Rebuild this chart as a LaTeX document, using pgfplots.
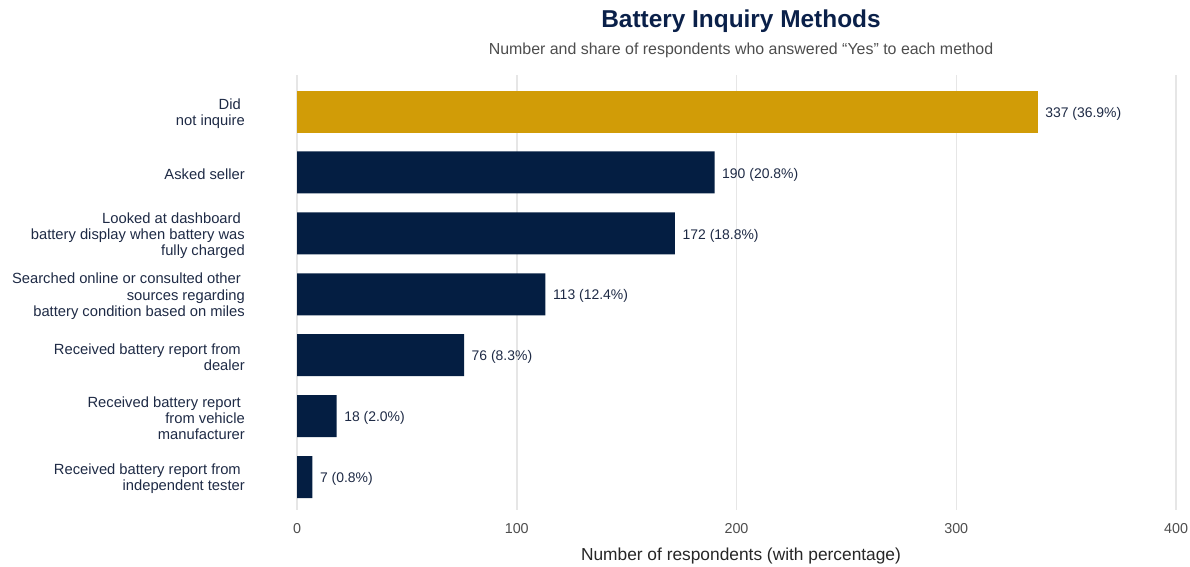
\documentclass[border=0pt]{standalone}
\usepackage{pgfplots}
\pgfplotsset{compat=1.18}
\usepackage{fontspec}
\setmainfont{Liberation Sans}
\definecolor{navy}{HTML}{041E42}
\definecolor{gold}{HTML}{D19C07}
\definecolor{lab}{HTML}{1E2A45}
\definecolor{gridc}{HTML}{E6E6E6}
\definecolor{titlec}{HTML}{0A2049}
\definecolor{subc}{HTML}{4D4D4D}
\begin{document}
\begin{tikzpicture}[x=1bp,y=1bp]
\useasboundingbox (0,0) rectangle (1190,567);
\begin{axis}[
  at={(297bp,57bp)}, anchor=south west,
  scale only axis, width=879bp, height=435bp,
  xmin=0, xmax=400, ymin=-0.54, ymax=6.6,
  axis line style={draw=none},
  major tick length=0pt,
  xtick={0,100,200,300,400},
  xmajorgrids, grid style={gridc, line width=1.5bp},
  xticklabel style={font=\fontsize{14.4}{16}\selectfont, text=subc, inner sep=0pt, yshift=-13bp},
  /pgf/number format/assume math mode=true,
  ytick={0,1,2,3,4,5,6},
  yticklabels={
    {Received battery report from\hspace*{4bp}\\independent tester},
    {Received battery report\hspace*{4bp}\\from vehicle\hspace*{4bp}\\manufacturer},
    {Received battery report from\hspace*{4bp}\\dealer},
    {Searched online or consulted other\hspace*{4bp}\\sources regarding\hspace*{4bp}\\battery condition based on miles},
    {Looked at dashboard\hspace*{4bp}\\battery display when battery was\hspace*{4bp}\\fully charged},
    {Asked seller},
    {Did\hspace*{4bp}\\not inquire}},
  yticklabel style={align=right, font=\fontsize{14.8}{16.2}\selectfont, text=lab, inner sep=0pt, xshift=-52bp, yshift=-2bp},
  xbar, bar width=42bp, bar shift=0pt,
  point meta=explicit symbolic,
  nodes near coords,
  nodes near coords style={anchor=west, inner sep=0pt, xshift=7.5bp, yshift=-2bp, font=\fontsize{14}{16}\selectfont, text=lab},
]
\addplot[fill=gold, draw=none] coordinates {(337,6) [337 (36.9\%)]};
\addplot[fill=navy, draw=none] coordinates {
  (190,5) [190 (20.8\%)]
  (172,4) [172 (18.8\%)]
  (113,3) [113 (12.4\%)]
  (76,2) [76 (8.3\%)]
  (18,1) [18 (2.0\%)]
  (7,0) [7 (0.8\%)]
};
\end{axis}
\node[anchor=base, font=\bfseries\fontsize{24.5}{28}\selectfont, text=titlec] at (741,539.5) {Battery Inquiry Methods};
\node[anchor=base, font=\fontsize{16}{19}\selectfont, text=subc] at (741,512.5) {Number and share of respondents who answered “Yes” to each method};
\node[anchor=base, font=\fontsize{17.4}{20}\selectfont, text=black!85] at (741,6.5) {Number of respondents (with percentage)};
\end{tikzpicture}
\end{document}
